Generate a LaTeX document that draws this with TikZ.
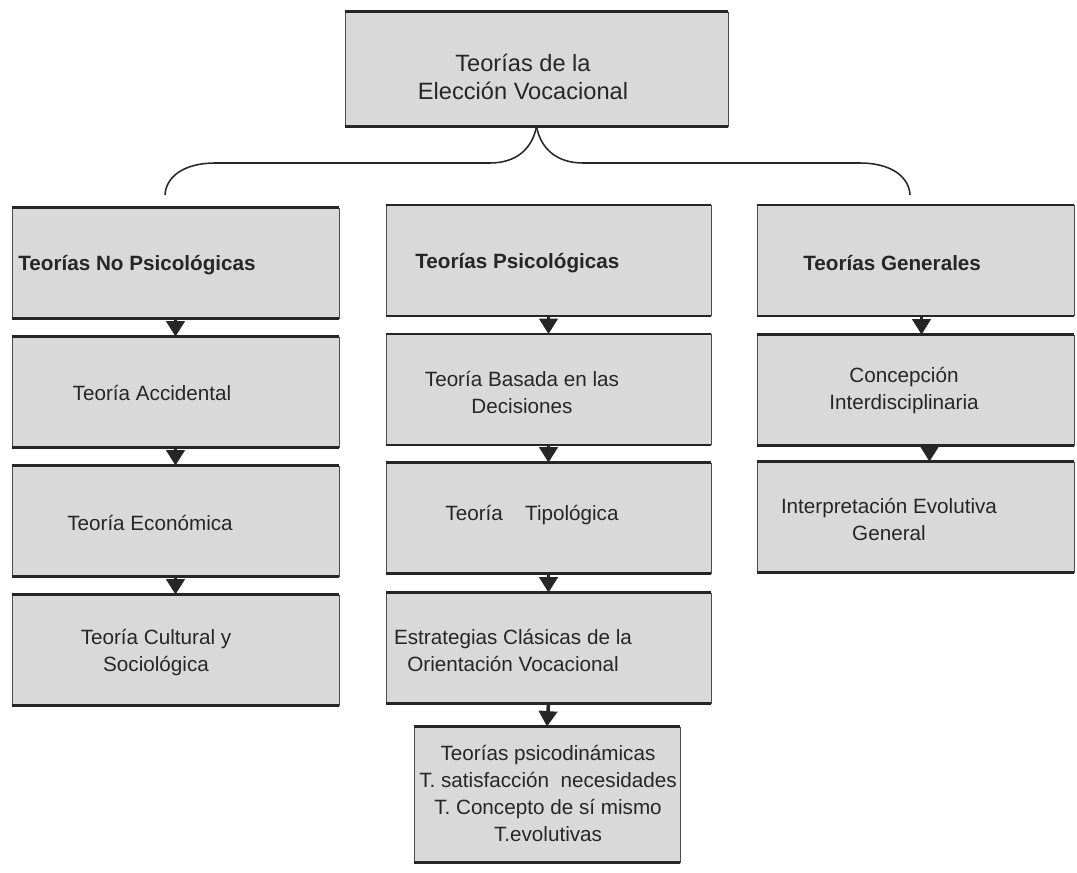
\documentclass[tikz,border=0pt]{standalone}
\usepackage{fontspec}
\setmainfont{Liberation Sans}
\usetikzlibrary{arrows.meta, positioning, calc}

\begin{document}
\begin{tikzpicture}[
    x=0.025cm, y=-0.025cm,
    box/.style={rectangle, draw=black!70, line width=0.6pt, fill=gray!30, inner sep=0pt},
    leftbox/.style={box, minimum width=8.175cm, minimum height=2.75cm},
    midbox/.style={box, minimum width=8.125cm, minimum height=2.75cm},
    rightbox/.style={box, minimum width=7.925cm, minimum height=2.75cm},
    txt/.style={font=\fontsize{14.7}{19.2}\selectfont, text=black!85, align=center, inner sep=0pt},
    head/.style={txt, font=\fontsize{14.7}{19.2}\selectfont\bfseries, anchor=west},
    edge/.style={line width=1.6pt, black!85},
    flow/.style={-{Triangle[width=13pt, length=11pt]}, line width=2.5pt, black!85},
    bracket/.style={line width=1.1pt, black!85}
]
\useasboundingbox (0,0) rectangle (1077,873);

% Root box
\node[box, minimum width=9.575cm, minimum height=2.85cm] (root) at (536.5,69) {};

% Left column
\node[leftbox] (nopsi) at (175.5,263) {};
\node[leftbox] (accid) at (175.5,392) {};
\node[leftbox] (econ)  at (175.5,521) {};
\node[leftbox] (cult)  at (175.5,650) {};

% Middle column
\node[midbox] (psi)   at (548.5,260.5) {};
\node[midbox] (decis) at (548.5,389.5) {};
\node[midbox] (tipo)  at (548.5,518) {};
\node[midbox] (estra) at (548.5,648) {};
\node[box, minimum width=6.65cm, minimum height=3.375cm] (psidin) at (547,794.5) {};

% Right column
\node[rightbox] (gen)   at (915.5,260.5) {};
\node[rightbox] (inter) at (915.5,390) {};
\node[rightbox] (evol)  at (915.5,517) {};

% Heavier top and bottom edges
\foreach \b in {root, nopsi, accid, econ, cult, psi, decis, tipo, estra, psidin, gen, inter, evol} {
    \draw[edge] (\b.north west) -- (\b.north east);
    \draw[edge] (\b.south west) -- (\b.south east);
}

% Texts
\node[txt, font=\fontsize{16.8}{20.5}\selectfont] (rootlbl) at (523,77) {Teorías de la\\Elección Vocacional};
\node[head] (nopsilbl) at (18,265) {Teorías No Psicológicas};
\node[txt] (accidlbl) at (152,393) {Teoría Accidental};
\node[txt] (econlbl) at (150,523) {Teoría Económica};
\node[txt] (cultlbl) at (156,653) {Teoría Cultural y\\Sociológica};
\node[head] (psilbl) at (415,263) {Teorías Psicológicas};
\node[txt] (decislbl) at (522,392) {Teoría Basada en las\\Decisiones};
\node[txt] (tipolbl) at (532,515) {Teoría\hspace{0.8em} Tipológica};
\node[txt] (estralbl) at (513,650) {Estrategias Clásicas de la\\Orientación Vocacional};
\node[txt] (psidinlbl) at (548,793) {Teorías psicodinámicas\\T. satisfacción\ \ necesidades\\T. Concepto de sí mismo\\T.evolutivas};
\node[head] (genlbl) at (803,263) {Teorías Generales};
\node[txt] (interlbl) at (904,391) {Concepción\\Interdisciplinaria};
\node[txt] (evollbl) at (889,519) {Interpretación Evolutiva\\General};

% Brace under the root box
\coordinate (bleft) at (165,195);
\coordinate (bright) at (910,195);
\draw[bracket] (root.south) .. controls (532,150) and (515,163) .. (490,163)
    -- (215,163) .. controls (185,163) and (166,176) .. (bleft);
\draw[bracket] (root.south) .. controls (541,150) and (558,163) .. (583,163)
    -- (860,163) .. controls (890,163) and (909,176) .. (bright);

% Downward arrows
\draw[flow] (nopsi.south) -- (accid.north);
\draw[flow] (accid.south) -- (econ.north);
\draw[flow] (econ.south) -- (cult.north);
\draw[flow] (psi.south) -- (decis.north);
\draw[flow] (decis.south) -- (tipo.north);
\draw[flow] (tipo.south) -- (estra.north);
\draw[flow] (estra.south) -- (psidin.north);
\draw[flow] ([xshift=0.15cm]gen.south) -- ([xshift=0.15cm]inter.north);
\draw[flow] ([xshift=0.35cm]inter.south) -- ([xshift=0.35cm]evol.north);

\end{tikzpicture}
\end{document}
